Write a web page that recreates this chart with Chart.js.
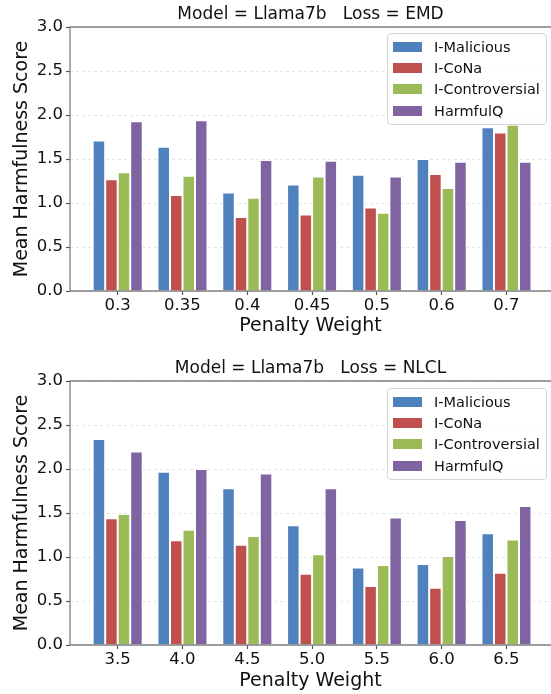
<!DOCTYPE html>
<html>
<head>
<meta charset="utf-8">
<script src="https://cdn.jsdelivr.net/npm/chart.js@4.4.0/dist/chart.umd.min.js"></script>
<style>
    body { margin: 0; background: #fff; font-family: "DejaVu Sans"; }
    #wrap { position: relative; width: 551px; height: 694px; overflow: hidden; }
    .box { position: absolute; left: 0; width: 551px; height: 347px; }
    .legend { position: absolute; left: 387px; width: 158px; height: 88px; padding-top: 2px;
        background: rgba(255,255,255,0.8); border: 1px solid #d5d5d5; border-radius: 4px;
        font-size: 14.5px; color: #111; }
    .legend .row { height: 21.33px; display: flex; align-items: center; }
    .legend .patch { width: 29px; height: 10px; margin-left: 5px; margin-right: 12px; }
</style>
</head>
<body>
<div id="wrap">
    <div class="box" style="top:0"><canvas id="chartEMD" width="551" height="347"></canvas></div>
    <div class="box" style="top:347px"><canvas id="chartNLCL" width="551" height="347"></canvas></div>
    <div class="legend" id="legendEMD" style="top:33px"></div>
    <div class="legend" id="legendNLCL" style="top:388px"></div>
</div>
<script>
let seriesNames = ["I-Malicious", "I-CoNa", "I-Controversial", "HarmfulQ"]
let seriesColors = ["#4F81BD", "#C0504D", "#9BBB59", "#8064A2"]

let weightsEMD = ["0.3", "0.35", "0.4", "0.45", "0.5", "0.6", "0.7"]
let emdMalicious = [1.71, 1.64, 1.12, 1.21, 1.32, 1.50, 1.86]
let emdCoNa = [1.27, 1.09, 0.84, 0.87, 0.95, 1.33, 1.80]
let emdControversial = [1.35, 1.31, 1.06, 1.30, 0.89, 1.17, 1.89]
let emdHarmfulQ = [1.93, 1.94, 1.49, 1.48, 1.30, 1.47, 1.47]

let weightsNLCL = ["3.5", "4.0", "4.5", "5.0", "5.5", "6.0", "6.5"]
let nlclMalicious = [2.34, 1.97, 1.78, 1.36, 0.88, 0.92, 1.27]
let nlclCoNa = [1.44, 1.19, 1.14, 0.81, 0.67, 0.65, 0.82]
let nlclControversial = [1.49, 1.31, 1.24, 1.03, 0.91, 1.01, 1.20]
let nlclHarmfulQ = [2.20, 2.00, 1.95, 1.78, 1.45, 1.42, 1.58]

let yMin = 0
let yMax = 3
let yStep = 0.5

let textColor = "#111"
let spineColor = "#808080"

// matplotlib-like spines: left, bottom and top
let spines = {
    id: "spines",
    afterDatasetsDraw(chart) {
        let a = chart.chartArea
        let ctx = chart.ctx
        ctx.save()
        ctx.strokeStyle = spineColor
        ctx.lineWidth = 1.3
        ctx.beginPath()
        ctx.moveTo(a.right + 1, a.top)
        ctx.lineTo(a.left, a.top)
        ctx.lineTo(a.left, a.bottom)
        ctx.lineTo(a.right + 1, a.bottom)
        ctx.stroke()
        ctx.restore()
    }
}

function MakeLegend(id){
    let html = ""
    for (let i = 0; i < seriesNames.length; i++) {
        html += `<div class="row"><span class="patch" style="background:${seriesColors[i]}"></span>${seriesNames[i]}</div>`
    }
    document.getElementById(id).innerHTML = html
}

function DrawChart(id, title, labels, values, lay){
    let datasets = []
    for (let k = 0; k < seriesNames.length; k++) {
        datasets.push({
            label: seriesNames[k],
            data: values[k].map((v, i) => ({x: i, y: v})),
            backgroundColor: seriesColors[k],
            borderColor: "#fff",
            borderWidth: 1,
            categoryPercentage: 0.772,
            barPercentage: 1
        })
    }
    return new Chart(id, {
        type: "bar",
        data: { datasets: datasets },
        plugins: [spines],
        options: {
            responsive: false,
            animation: false,
            layout: { padding: 0 },
            plugins: {
                legend: { display: false },
                tooltip: { enabled: false },
                title: { display: false }
            },
            scales: {
                x: {
                    type: "linear",
                    min: -0.736,
                    max: 6.687,
                    offset: false,
                    afterBuildTicks: s => { s.ticks = labels.map((l, i) => ({value: i})) },
                    afterFit: s => { s.height = lay.xHeight },
                    ticks: {
                        callback: v => labels[v],
                        color: textColor,
                        font: { family: "DejaVu Sans", size: 16.5 },
                        padding: 1,
                        autoSkip: false,
                        maxRotation: 0
                    },
                    grid: { offset: false, drawOnChartArea: false, tickLength: 4, tickColor: "#555", tickWidth: 1.2 },
                    border: { display: false },
                    title: {
                        display: true,
                        text: "Penalty Weight",
                        color: textColor,
                        font: { family: "DejaVu Sans", size: 19 },
                        padding: { top: 0, bottom: lay.xTitleBottom }
                    }
                },
                // top axis only carries the panel title, centred over the plot
                top: {
                    type: "linear",
                    position: "top",
                    min: 0,
                    max: 1,
                    afterFit: s => { s.height = lay.titleHeight },
                    ticks: { display: false },
                    grid: { display: false },
                    border: { display: false },
                    title: {
                        display: true,
                        text: title,
                        color: textColor,
                        font: { family: "DejaVu Sans", size: 17 },
                        padding: { top: lay.titleTop, bottom: 0 }
                    }
                },
                y: {
                    min: yMin,
                    max: yMax,
                    afterFit: s => { s.width = 70 },
                    ticks: {
                        stepSize: yStep,
                        callback: v => v.toFixed(1),
                        color: textColor,
                        font: { family: "DejaVu Sans", size: 16.5 },
                        padding: 3
                    },
                    grid: { color: "#e4e4e4", lineWidth: 1, tickLength: 4, tickColor: "#555", tickWidth: 1.2 },
                    border: { display: false, dash: [3, 3] },
                    title: {
                        display: true,
                        text: "Mean Harmfulness Score",
                        color: textColor,
                        font: { family: "DejaVu Sans", size: 19 },
                        padding: { top: 11, bottom: 0 }
                    }
                }
            }
        }
    })
}

DrawChart("chartEMD", "Model = Llama7b   Loss = EMD", weightsEMD,
    [emdMalicious, emdCoNa, emdControversial, emdHarmfulQ],
    { titleHeight: 27, titleTop: 4.8, xHeight: 56, xTitleBottom: 9.6 })
DrawChart("chartNLCL", "Model = Llama7b   Loss = NLCL", weightsNLCL,
    [nlclMalicious, nlclCoNa, nlclControversial, nlclHarmfulQ],
    { titleHeight: 34, titleTop: 11.8, xHeight: 49, xTitleBottom: 1.6 })
MakeLegend("legendEMD")
MakeLegend("legendNLCL")
</script>
</body>
</html>
